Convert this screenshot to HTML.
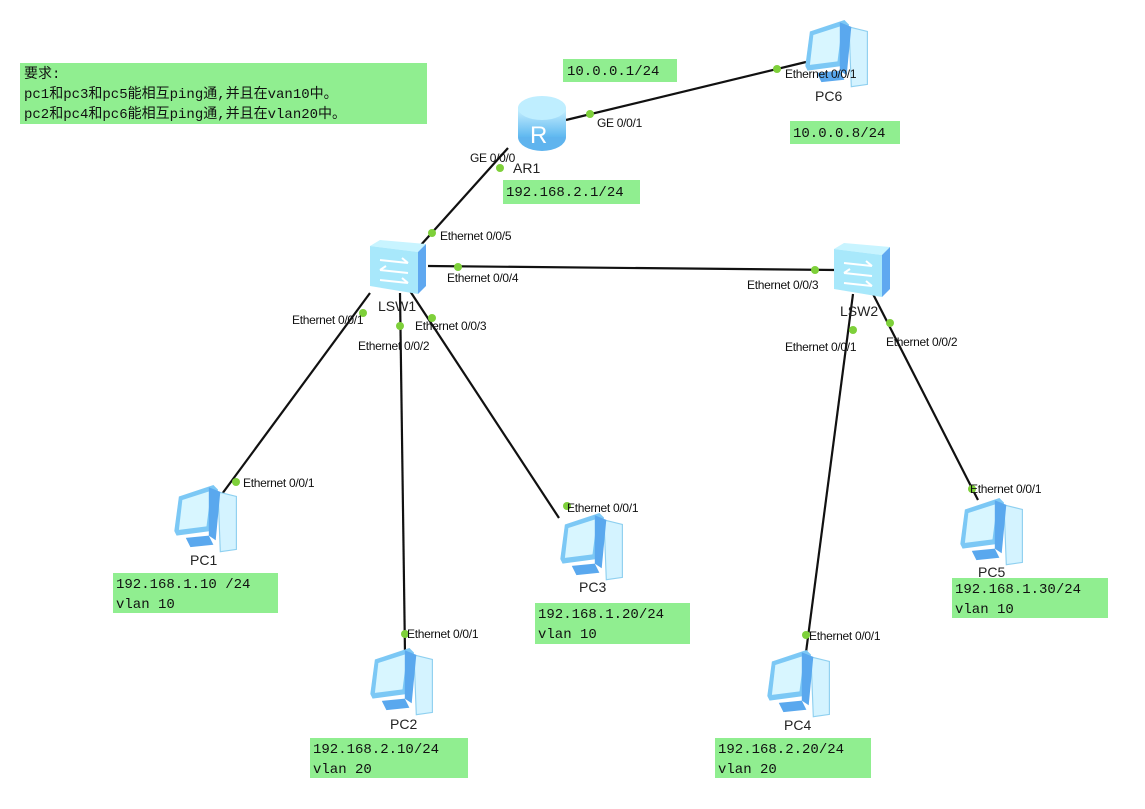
<!DOCTYPE html>
<html><head><meta charset="utf-8"><style>
body{margin:0;background:#fff;width:1145px;height:809px;overflow:hidden}
svg{display:block}
.p{font-family:"Liberation Sans",sans-serif;font-size:12px;fill:#111;letter-spacing:-0.3px}
.n{font-family:"Liberation Sans",sans-serif;font-size:14px;fill:#222}
.m{font-family:"Liberation Mono","Noto Sans CJK SC",monospace;font-size:14px;fill:#111}
.g{fill:#90ee90}
.d{fill:#7ed03a}
</style></head><body>
<svg width="1145" height="809" viewBox="0 0 1145 809">
<defs>
<linearGradient id="bl" x1="0" y1="0" x2="0" y2="1"><stop offset="0" stop-color="#c9f1ff"/><stop offset="1" stop-color="#5fb8f0"/></linearGradient>
<g id="pc0">
  <path d="M40 6 L56 10 L56 56 L42 58 Z" fill="#d4f3ff" stroke="#8fd0f0"/>
  <path d="M6 10 L36 0 L40 4 L34 40 L4 44 L2 40 Z" fill="#7cc8f5"/>
  <path d="M9 13 L34 5 L30 36 L6 39 Z" fill="#d8f6ff"/>
  <path d="M32 2 L42 6 L38 48 L32 44 Z" fill="#5aa8ee"/>
  <path d="M12 46 L32 44 L36 52 L16 54 Z" fill="#5aa8ee"/>
</g>
<g id="pc"><use href="#pc0" transform="scale(1.15)"/></g>
<g id="sw">
  <path d="M0 6 L10 0 L56 4 L48 12 Z" fill="#c8f4ff"/>
  <path d="M0 6 L48 12 L48 54 L0 46 Z" fill="#a8e8fb"/>
  <path d="M48 12 L56 4 L56 46 L48 54 Z" fill="#5fa8f0"/>
  <g stroke="#fff" stroke-width="2" fill="none"><path d="M10 20 L38 23 M32 18 L38 23"/><path d="M10 30 L38 33 M16 26 L10 30"/><path d="M10 40 L38 43 M32 38 L38 43"/></g>
</g>
</defs>

<rect x="20" y="63" width="407" height="61" class="g"/>
<text class="m" x="24" y="78">要求:</text>
<text class="m" x="24" y="98">pc1和pc3和pc5能相互ping通,并且在van10中。</text>
<text class="m" x="24" y="118">pc2和pc4和pc6能相互ping通,并且在vlan20中。</text>

<g stroke="#111" stroke-width="2.2" fill="none">
<line x1="566" y1="120" x2="806" y2="62"/>
<line x1="508" y1="148" x2="420" y2="246"/>
<line x1="428" y1="266" x2="836" y2="270"/>
<line x1="370" y1="293" x2="222" y2="494"/>
<line x1="400" y1="293" x2="405" y2="654"/>
<line x1="410" y1="291" x2="559" y2="518"/>
<line x1="853" y1="294" x2="805" y2="660"/>
<line x1="873" y1="294" x2="978" y2="500"/>
</g>

<g>
<ellipse cx="542" cy="137" rx="24" ry="14" fill="#5fb4ee"/>
<rect x="518" y="108" width="48" height="29" fill="url(#bl)"/>
<ellipse cx="542" cy="108" rx="24" ry="12" fill="#bfeeff"/>
<text x="530" y="143" font-family="Liberation Sans" font-size="24" fill="#fff">R</text>
</g>

<use href="#sw" x="370" y="240"/>
<use href="#sw" x="834" y="243"/>

<use href="#pc" x="172" y="485"/>
<use href="#pc" x="368" y="648"/>
<use href="#pc" x="558" y="513"/>
<use href="#pc" x="765" y="650"/>
<use href="#pc" x="958" y="498"/>
<use href="#pc" x="803" y="20"/>

<g class="d">
<circle cx="590" cy="114" r="4"/><circle cx="777" cy="69" r="4"/>
<circle cx="500" cy="168" r="4"/><circle cx="432" cy="233" r="4"/>
<circle cx="458" cy="267" r="4"/><circle cx="815" cy="270" r="4"/>
<circle cx="363" cy="313" r="4"/><circle cx="400" cy="326" r="4"/><circle cx="432" cy="318" r="4"/>
<circle cx="236" cy="482" r="4"/><circle cx="405" cy="634" r="4"/><circle cx="567" cy="506" r="4"/>
<circle cx="853" cy="330" r="4"/><circle cx="890" cy="323" r="4"/>
<circle cx="806" cy="635" r="4"/><circle cx="972" cy="489" r="4"/>
</g>

<g class="p">
<text x="597" y="127">GE 0/0/1</text>
<text x="470" y="162">GE 0/0/0</text>
<text x="785" y="78">Ethernet 0/0/1</text>
<text x="440" y="240">Ethernet 0/0/5</text>
<text x="447" y="282">Ethernet 0/0/4</text>
<text x="747" y="289">Ethernet 0/0/3</text>
<text x="292" y="324">Ethernet 0/0/1</text>
<text x="358" y="350">Ethernet 0/0/2</text>
<text x="415" y="330">Ethernet 0/0/3</text>
<text x="785" y="351">Ethernet 0/0/1</text>
<text x="886" y="346">Ethernet 0/0/2</text>
<text x="243" y="487">Ethernet 0/0/1</text>
<text x="407" y="638">Ethernet 0/0/1</text>
<text x="567" y="512">Ethernet 0/0/1</text>
<text x="809" y="640">Ethernet 0/0/1</text>
<text x="970" y="493">Ethernet 0/0/1</text>
</g>
<g class="n">
<text x="513" y="173">AR1</text>
<text x="378" y="311">LSW1</text>
<text x="840" y="316">LSW2</text>
<text x="190" y="565">PC1</text>
<text x="390" y="729">PC2</text>
<text x="579" y="592">PC3</text>
<text x="784" y="730">PC4</text>
<text x="978" y="577">PC5</text>
<text x="815" y="101">PC6</text>
</g>

<rect x="563" y="59" width="114" height="23" class="g"/><text class="m" x="567" y="75">10.0.0.1/24</text>
<rect x="790" y="121" width="110" height="23" class="g"/><text class="m" x="793" y="137">10.0.0.8/24</text>
<rect x="503" y="180" width="137" height="24" class="g"/><text class="m" x="506" y="196">192.168.2.1/24</text>
<rect x="113" y="573" width="165" height="40" class="g"/><text class="m" x="116" y="588">192.168.1.10 /24</text><text class="m" x="116" y="608">vlan 10</text>
<rect x="535" y="603" width="155" height="41" class="g"/><text class="m" x="538" y="618">192.168.1.20/24</text><text class="m" x="538" y="638">vlan 10</text>
<rect x="310" y="738" width="158" height="40" class="g"/><text class="m" x="313" y="753">192.168.2.10/24</text><text class="m" x="313" y="773">vlan 20</text>
<rect x="715" y="738" width="156" height="40" class="g"/><text class="m" x="718" y="753">192.168.2.20/24</text><text class="m" x="718" y="773">vlan 20</text>
<rect x="952" y="578" width="156" height="40" class="g"/><text class="m" x="955" y="593">192.168.1.30/24</text><text class="m" x="955" y="613">vlan 10</text>
</svg>
</body></html>
